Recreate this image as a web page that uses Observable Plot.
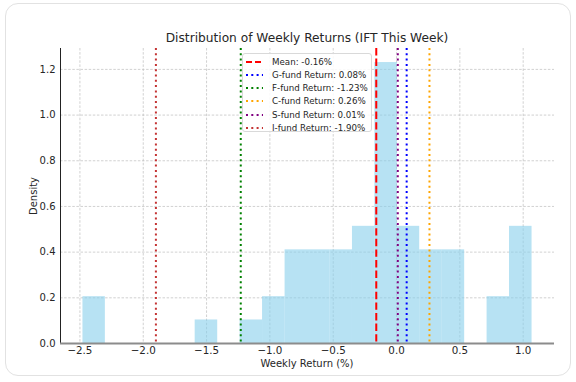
<!DOCTYPE html>
<html>
<head>
<meta charset="utf-8">
<script src="https://cdn.jsdelivr.net/npm/d3@7"></script>
<script src="https://cdn.jsdelivr.net/npm/@observablehq/plot@0.6"></script>
<style>
  html, body { margin: 0; padding: 0; background: #fff; }
  body { width: 576px; height: 382px; position: relative; overflow: hidden; font-family: "DejaVu Sans", sans-serif; }
  #card { position: absolute; left: 5px; top: 3px; width: 566px; height: 373px; border: 1px solid #e2e2e2; border-radius: 13px; box-sizing: border-box; }
  #chart { position: absolute; left: 0; top: 0; }
  .txt { position: absolute; color: #262626; white-space: nowrap; }
  #title { left: 0; width: 614px; top: 31px; text-align: center; font-size: 12.2px; }
  #xlabel { left: 0; width: 614px; top: 358px; text-align: center; font-size: 10px; }
  #ylabel { left: 33px; top: 196px; font-size: 10px; transform: translate(-50%, -50%) rotate(-90deg); }
  #legend { position: absolute; left: 242px; top: 53px; width: 130px; height: 79px; box-sizing: border-box; border: 1px solid #d9d9d9; border-radius: 3px; background: rgba(255,255,255,0.85); }
  .row { position: absolute; left: 3px; height: 13px; display: flex; align-items: center; font-size: 8.7px; color: #262626; }
  .row svg { margin-right: 9px; }
</style>
</head>
<body>
<div id="card"></div>
<div id="chart"></div>
<div id="title" class="txt">Distribution of Weekly Returns (IFT This Week)</div>
<div id="xlabel" class="txt">Weekly Return (%)</div>
<div id="ylabel" class="txt">Density</div>
<div id="legend"></div>
<script>
// Histogram bin edges (20 bins) and densities
const binEdges = [-2.476, -2.299, -2.122, -1.944, -1.767, -1.590, -1.412, -1.235, -1.058, -0.880,
                  -0.703, -0.526, -0.348, -0.171, 0.006, 0.183, 0.361, 0.538, 0.715, 0.892, 1.070];
const densities = [0.205, 0, 0, 0, 0, 0.103, 0, 0.103, 0.205, 0.41,
                   0.41, 0.41, 0.513, 1.23, 0.513, 0.41, 0.41, 0, 0.205, 0.513];

// Reference lines
const lineLabels = ["Mean: -0.16%", "G-fund Return: 0.08%", "F-fund Return: -1.23%", "C-fund Return: 0.26%", "S-fund Return: 0.01%", "I-fund Return: -1.90%"];
const lineValues = [-0.16, 0.08, -1.23, 0.26, 0.01, -1.90];
const lineColors = ["red", "blue", "green", "orange", "purple", "#c43333"];
const lineStyles = ["dashed", "dotted", "dotted", "dotted", "dotted", "dotted"];

// Axis ticks
const xTicks = [-2.5, -2.0, -1.5, -1.0, -0.5, 0.0, 0.5, 1.0];
const yTicks = [0.0, 0.2, 0.4, 0.6, 0.8, 1.0, 1.2];
const xDomain = [-2.6533, 1.2473];
const yDomain = [0, 1.2915];

const bins = densities.map((d, i) => ({x1: binEdges[i], x2: binEdges[i + 1], density: d}));
const refLines = lineValues.map((v, i) => ({value: v, color: lineColors[i], style: lineStyles[i], label: lineLabels[i]}));
const dashFor = s => s === "dashed" ? "7.4,3.2" : "2,3.3";

const plot = Plot.plot({
  width: 576,
  height: 382,
  marginLeft: 60,
  marginRight: 22,
  marginTop: 48,
  marginBottom: 39,
  style: {fontFamily: "DejaVu Sans, sans-serif", fontSize: "10px", color: "#262626", background: "transparent"},
  x: {domain: xDomain, label: null},
  y: {domain: yDomain, label: null},
  marks: [
    Plot.ruleX(xTicks, {stroke: "#bdbdbd", strokeWidth: 0.7, strokeDasharray: "2.5,1.6"}),
    Plot.ruleY(yTicks, {stroke: "#bdbdbd", strokeWidth: 0.7, strokeDasharray: "2.5,1.6"}),
    Plot.rectY(bins, {x1: "x1", x2: "x2", y: "density", fill: "#87ceeb", fillOpacity: 0.6, inset: 0}),
    ...refLines.map(l => Plot.ruleX([l.value], {stroke: l.color, strokeWidth: 2, strokeDasharray: dashFor(l.style)})),
    Plot.ruleX([xDomain[0]], {stroke: "#222", strokeWidth: 1}),
    Plot.ruleY([0], {stroke: "#8c8c8c", strokeWidth: 2}),
    Plot.axisX({ticks: xTicks, tickFormat: d3.format(".1f"), tickSize: 0, tickPadding: 3, fontSize: 10.3, label: null}),
    Plot.axisY({ticks: yTicks, tickFormat: d3.format(".1f"), tickSize: 0, tickPadding: 5, fontSize: 10, label: null})
  ]
});
document.getElementById("chart").appendChild(plot);

// Legend
const legend = document.getElementById("legend");
refLines.forEach((l, i) => {
  const row = document.createElement("div");
  row.className = "row";
  row.style.top = (1 + i * 13.3) + "px";
  row.innerHTML = `<svg width="17" height="4"><line x1="0" y1="2" x2="17" y2="2" stroke="${l.color}" stroke-width="2" stroke-dasharray="${l.style === "dashed" ? "6,3" : "2,3.3"}"/></svg><span>${l.label}</span>`;
  legend.appendChild(row);
});
</script>
</body>
</html>
